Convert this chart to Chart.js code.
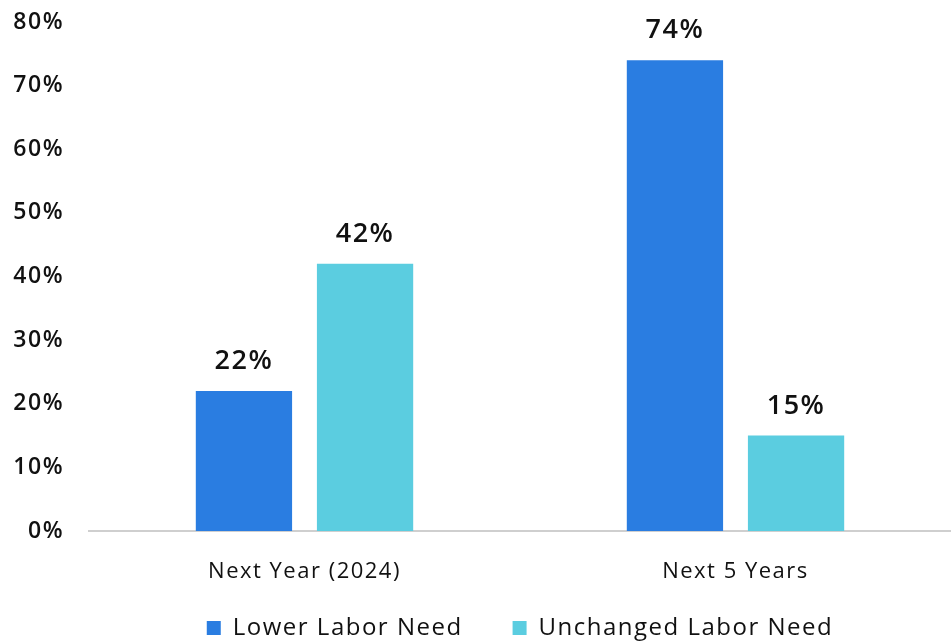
<!DOCTYPE html>
<html>
<head>
<meta charset="utf-8">
<script src="https://cdn.jsdelivr.net/npm/chart.js@4/dist/chart.umd.min.js"></script>
<style>
  html, body { margin: 0; padding: 0; background: #ffffff; }
  #wrap { width: 951px; height: 642px; }
</style>
</head>
<body>
<div id="wrap"><canvas id="labor"></canvas></div>
<script>
// labour need survey, share of respondents
var periods = ['Next Year (2024)', 'Next 5 Years']
var lowerNeed = [22, 74]
var unchangedNeed = [42, 15]
var yTicks = [0, 10, 20, 30, 40, 50, 60, 70, 80]

var fontFamily = '"Open Sans", Lato, sans-serif'
var spacing = '1.5px'
var legendHeight = 76

// a little tracking on every label (canvas resets it on resize)
var tracking = {
    id: 'tracking',
    beforeLayout: function (chart) { chart.ctx.letterSpacing = spacing },
    beforeDraw: function (chart) { chart.ctx.letterSpacing = spacing }
}

// wide gap between legend items without a tall legend box
var legendBox = {
    id: 'legendBox',
    afterInit: function (chart) {
        var legend = chart.legend
        var fit = legend.fit
        legend.fit = function () {
            fit.call(this)
            this.height = legendHeight
        }
    }
}

// prints the value above each bar
var barValues = {
    id: 'barValues',
    afterDatasetsDraw: function (chart) {
        var ctx = chart.ctx
        ctx.save()
        ctx.font = '600 27px ' + fontFamily
        ctx.fillStyle = '#111111'
        ctx.textAlign = 'center'
        ctx.textBaseline = 'alphabetic'
        chart.data.datasets.forEach(function (ds, i) {
            chart.getDatasetMeta(i).data.forEach(function (bar, j) {
                ctx.fillText(ds.data[j] + '%', bar.x, bar.y - 22)
            })
        })
        ctx.restore()
    }
}

var ctx1 = document.getElementById('labor').getContext('2d')
var laborChart = new Chart(ctx1, {
    type: 'bar',
    data: {
        labels: periods,
        datasets: [{
            label: 'Lower Labor Need',
            data: lowerNeed,
            backgroundColor: '#2a7de1'
        }, {
            label: 'Unchanged Labor Need',
            data: unchangedNeed,
            backgroundColor: '#5bcde0'
        }]
    },
    options: {
        responsive: true,
        maintainAspectRatio: false,
        animation: false,
        categoryPercentage: 0.562,
        barPercentage: 0.795,
        layout: { padding: { top: 22, left: 0, right: 0, bottom: 0 } },
        plugins: {
            legend: {
                position: 'bottom',
                fullSize: false,
                labels: {
                    boxWidth: 14,
                    boxHeight: 14,
                    padding: 50,
                    color: '#111111',
                    font: { family: fontFamily, size: 24, weight: '500' }
                }
            },
            tooltip: { enabled: false }
        },
        scales: {
            x: {
                grid: { display: false },
                border: { color: '#cfcfcf', width: 2 },
                ticks: {
                    color: '#111111',
                    padding: 20,
                    font: { family: fontFamily, size: 22, weight: '500' }
                },
                afterFit: function (axis) {
                    axis.height = 35
                    // labels hang below the short axis box, so don't clip them
                    axis._computeLabelArea = function () { return undefined }
                }
            },
            y: {
                min: 0,
                max: 80,
                grid: { display: false },
                border: { display: false },
                afterBuildTicks: function (axis) {
                    axis.ticks = yTicks.map(function (v) { return { value: v } })
                },
                afterFit: function (axis) {
                    axis.width = 89
                    axis.paddingTop = 0
                    axis.paddingBottom = 0
                },
                ticks: {
                    color: '#111111',
                    padding: 17,
                    font: { family: fontFamily, size: 23, weight: '600' },
                    callback: function (v) { return v + '%' }
                }
            }
        }
    },
    plugins: [tracking, legendBox, barValues]
})
</script>
</body>
</html>
